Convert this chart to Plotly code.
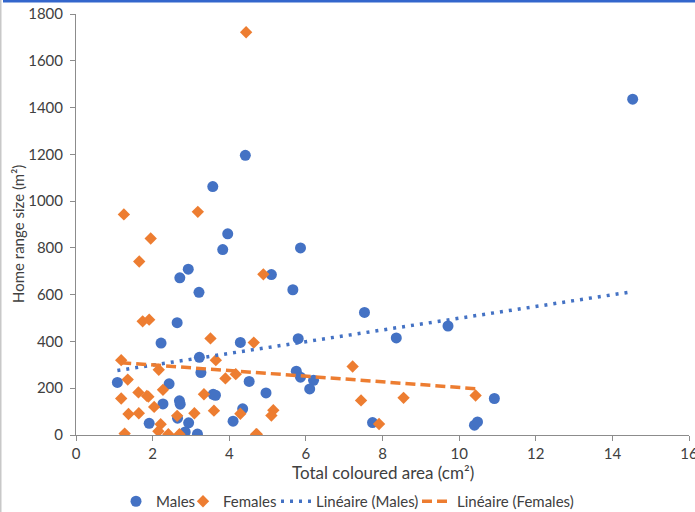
import numpy as np
import plotly.graph_objects as go

# Males
males_x = [1.08, 14.53, 4.42, 3.57, 3.96, 3.83, 5.86, 2.93, 2.71, 5.10, 3.21, 5.66,
           2.64, 7.53, 2.22, 4.29, 5.80, 8.36, 9.71, 3.22, 3.26, 5.75, 5.86, 6.20,
           6.10, 2.43, 4.52, 4.96, 3.58, 3.64, 2.27, 2.70, 2.72, 4.35, 1.91, 2.65,
           2.94, 4.10, 2.85, 3.17, 10.92, 7.74, 10.40, 10.48]
males_y = [225, 1436, 1196, 1062, 860, 793, 800, 709, 672, 686, 610, 621,
           480, 524, 393, 396, 412, 415, 466, 332, 267, 273, 247, 234,
           197, 219, 229, 180, 174, 170, 133, 146, 132, 112, 50, 72,
           52, 59, 13, 4, 156, 53, 42, 56]

# Females
females_x = [1.25, 3.18, 1.95, 1.65, 4.89, 1.74, 1.91, 3.51, 4.64, 1.18, 3.65, 2.16,
             1.35, 3.90, 4.17, 2.27, 1.63, 1.85, 1.89, 3.34, 1.18, 2.04, 3.60, 5.15,
             5.10, 3.09, 4.29, 1.37, 1.64, 2.21, 2.64, 2.15, 2.41, 2.70, 1.27, 4.70,
             4.72, 7.22, 7.44, 8.55, 10.43, 7.91, 4.44]
females_y = [943, 954, 840, 742, 687, 486, 493, 413, 395, 320, 320, 279,
             237, 242, 260, 193, 182, 167, 164, 174, 156, 120, 104, 106,
             83, 93, 91, 90, 93, 46, 82, 16, 3, 3, 6, 3,
             3, 293, 148, 159, 169, 47, 1722]

x_ticks = [0, 2, 4, 6, 8, 10, 12, 14, 16]
y_ticks = [0, 200, 400, 600, 800, 1000, 1200, 1400, 1600, 1800]

x_title = "Total coloured area (cm²)"
y_title = "Home range size (m²)"

BLUE = "#4472C4"
ORANGE = "#ED7D31"
TXT = "#404040"
FONT = "Lato"
AX = "#8c8c8c"


def trend(xs, ys):
    xs = np.array(xs, dtype=float)
    ys = np.array(ys, dtype=float)
    m, b = np.polyfit(xs, ys, 1)
    xx = np.array([xs.min(), xs.max()])
    return xx, m * xx + b


mtx, mty = trend(males_x, males_y)
ftx, fty = trend(females_x, females_y)

fig = go.Figure()
fig.add_trace(go.Scatter(x=males_x, y=males_y, mode="markers", name="Males",
                         legendwidth=22,
                         marker=dict(symbol="circle", size=11, color=BLUE)))
fig.add_trace(go.Scatter(x=females_x, y=females_y, mode="markers", name="Females",
                         legendwidth=48,
                         marker=dict(symbol="diamond", size=9.5, color=ORANGE)))
fig.add_trace(go.Scatter(x=mtx, y=mty, mode="lines", name="Linéaire (Males)",
                         legendwidth=96,
                         line=dict(color=BLUE, width=3.5, dash="3px,6px")))
fig.add_trace(go.Scatter(x=ftx, y=fty, mode="lines", name="Linéaire (Females)",
                         legendwidth=125,
                         line=dict(color=ORANGE, width=3.5, dash="10px,5px")))

axis_common = dict(showgrid=False, zeroline=False, showline=True, linecolor=AX,
                   linewidth=1, ticks="outside", ticklen=5, tickcolor=AX,
                   automargin=False,
                   tickfont=dict(family=FONT, size=15, color=TXT))

fig.update_xaxes(range=[0, 16], tickvals=x_ticks, ticktext=[str(v) for v in x_ticks],
                 ticklabeloverflow="allow", **axis_common)
fig.update_yaxes(range=[0, 1800], tickvals=y_ticks, ticktext=[str(v) for v in y_ticks],
                 ticklabelstandoff=4, **axis_common)

fig.update_layout(
    width=695, height=512,
    margin=dict(l=76, r=6, t=14, b=77, autoexpand=False),
    plot_bgcolor="white", paper_bgcolor="white",
    font=dict(family=FONT, size=15, color=TXT),
    legend=dict(orientation="h", xref="container", yref="container",
                x=116 / 695, xanchor="left", y=1 - 485 / 512, yanchor="top",
                font=dict(family=FONT, size=15, color=TXT),
                itemwidth=30, tracegroupgap=0),
    showlegend=True,
    annotations=[
        dict(text=x_title, xref="paper", yref="paper", x=0.5, y=0,
             xanchor="center", yanchor="middle", yshift=-37, showarrow=False,
             font=dict(family=FONT, size=17, color=TXT)),
        dict(text=y_title, xref="paper", yref="paper", x=0, y=(435 - 234) / 421,
             xanchor="center", yanchor="middle", xshift=-58, textangle=-90,
             showarrow=False, font=dict(family=FONT, size=15, color=TXT)),
    ],
    shapes=[
        dict(type="line", xref="paper", yref="paper",
             x0=(3 - 76) / 613, x1=(695 - 76) / 613,
             y0=(435 - 1) / 421, y1=(435 - 1) / 421,
             line=dict(color="#3366CC", width=3)),
        dict(type="line", xref="paper", yref="paper",
             x0=(0.5 - 76) / 613, x1=(0.5 - 76) / 613,
             y0=435 / 421, y1=(435 - 512) / 421,
             line=dict(color="#c8c8c8", width=2)),
    ],
)

fig.write_html("out.html",
               config={"displayModeBar": False},
               post_script="document.body.style.margin='0';document.body.style.overflow='hidden';")
